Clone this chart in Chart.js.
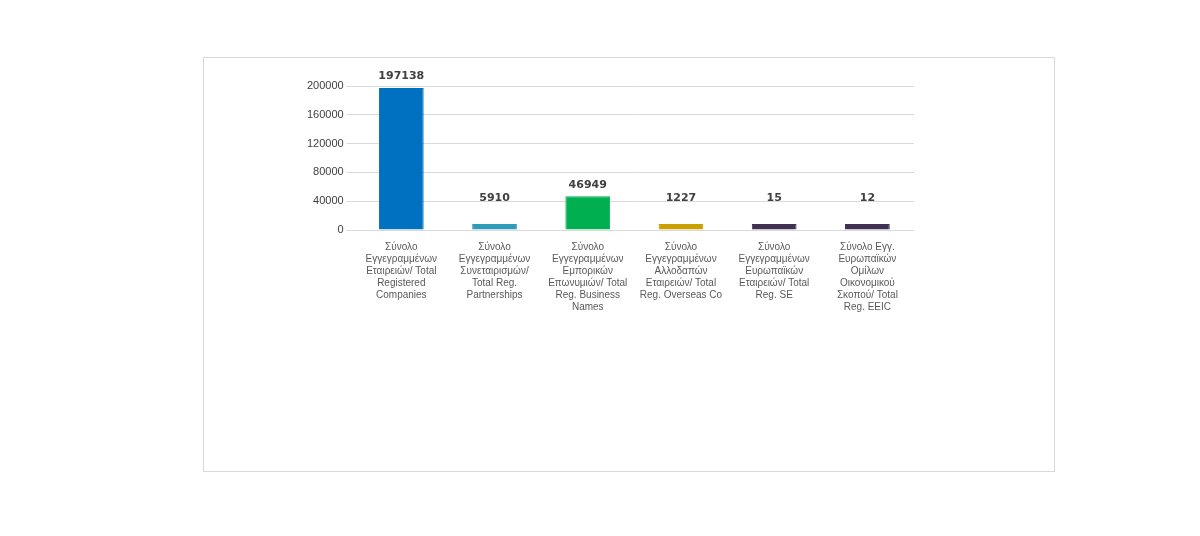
<!DOCTYPE html>
<html>
<head>
<meta charset="utf-8">
<script src="https://cdn.jsdelivr.net/npm/chart.js@4"></script>
<style>
  body { margin: 0; background: #fff; }
  #frame { position: absolute; left: 203px; top: 57px; width: 852px; height: 415px; border: 1px solid #d9d9d9; box-sizing: border-box; }
  #wrap { position: absolute; left: 100px; top: 8px; width: 610px; height: 250px; }
</style>
</head>
<body>
<div id="frame"><div id="wrap"><canvas id="barChart"></canvas></div></div>
<script>
const categories = [
    ['Σύνολο', 'Εγγεγραμμένων', 'Εταιρειών/ Total', 'Registered', 'Companies'],
    ['Σύνολο', 'Εγγεγραμμένων', 'Συνεταιρισμών/', 'Total Reg.', 'Partnerships'],
    ['Σύνολο', 'Εγγεγραμμένων', 'Εμπορικών', 'Επωνυμιών/ Total', 'Reg. Business', 'Names'],
    ['Σύνολο', 'Εγγεγραμμένων', 'Αλλοδαπών', 'Εταιρειών/ Total', 'Reg. Overseas Co'],
    ['Σύνολο', 'Εγγεγραμμένων', 'Ευρωπαϊκών', 'Εταιρειών/ Total', 'Reg. SE'],
    ['Σύνολο Εγγ.', 'Ευρωπαϊκών', 'Ομίλων', 'Οικονομικού', 'Σκοπού/ Total', 'Reg. EEIC']
];
const values = [197138, 5910, 46949, 1227, 15, 12];
const colors = ['#0070c0', '#2e9cb8', '#00b050', '#c9a000', '#403152', '#403152'];

const valueLabels = {
    id: 'valueLabels',
    afterDatasetsDraw(chart) {
        const ctx = chart.ctx;
        const meta = chart.getDatasetMeta(0);
        ctx.save();
        ctx.font = 'bold 11px "DejaVu Sans", sans-serif';
        ctx.fillStyle = '#404040';
        ctx.textAlign = 'center';
        ctx.textBaseline = 'bottom';
        meta.data.forEach((bar, i) => {
            ctx.fillText(values[i], bar.x, Math.min(bar.y, chart.chartArea.bottom - 20) - 6);
        });
        ctx.restore();
    }
};

new Chart(document.getElementById('barChart').getContext('2d'), {
    type: 'bar',
    data: {
        labels: categories,
        datasets: [{
            data: values,
            backgroundColor: colors,
            borderColor: colors,
            borderWidth: 1,
            categoryPercentage: 0.6,
            barPercentage: 0.8,
            maxBarThickness: 45,
            minBarLength: 6
        }]
    },
    options: {
        responsive: true,
        maintainAspectRatio: false,
        animation: false,
        layout: { padding: { top: 20 } },
        plugins: { legend: { display: false }, tooltip: { enabled: false } },
        scales: {
            y: {
                min: 0, max: 200000,
                ticks: { stepSize: 20000, color: '#404040', font: { size: 11 }, callback: v => String(v) },
                grid: { color: '#d9d9d9' },
                border: { display: false }
            },
            x: {
                ticks: { color: '#595959', font: { size: 10 }, maxRotation: 0, autoSkip: false },
                grid: { display: false },
                border: { color: '#d9d9d9' }
            }
        }
    },
    plugins: [valueLabels]
});
</script>
</body>
</html>
